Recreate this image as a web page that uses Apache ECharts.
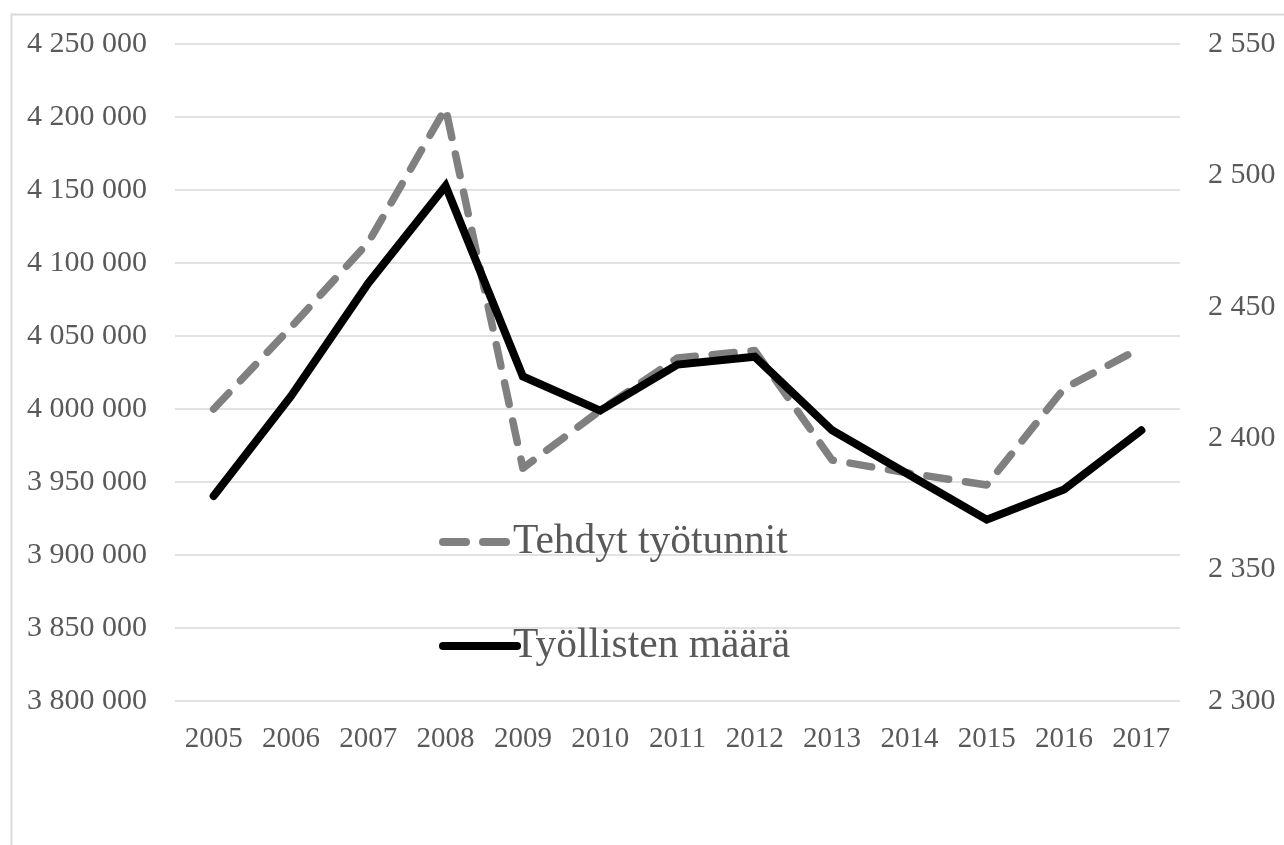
<!DOCTYPE html>
<html>
<head>
<meta charset="utf-8">
<script src="https://cdn.jsdelivr.net/npm/echarts@6/dist/echarts.min.js"></script>
<style>html,body{margin:0;padding:0;background:#fff}#c{width:1284px;height:845px}</style>
</head>
<body>
<div id="c"></div>
<script>
const years = ['2005','2006','2007','2008','2009','2010','2011','2012','2013','2014','2015','2016','2017'];
const tehdytTyotunnit = [4000000, 4056000, 4114000, 4206000, 3959500, 3999000, 4035000, 4040000, 3965000, 3956000, 3948000, 4014000, 4042000];
const tyollistenMaara = [2378, 2416, 2459, 2496, 2423.5, 2410.5, 2428, 2431, 2403, 2386, 2369, 2380.5, 2403];
const leftTicks = {min: 3800000, max: 4250000, interval: 50000};
const rightTicks = {min: 2300, max: 2550, interval: 50};

const FONT = '"Liberation Serif", "DejaVu Serif", serif';
const fmt = v => String(Math.round(v)).replace(/\B(?=(\d{3})+(?!\d))/g, ' ');

const chart = echarts.init(document.getElementById('c'), null, {renderer: 'canvas'});
chart.setOption({
  animation: false,
  backgroundColor: '#ffffff',
  textStyle: {fontFamily: FONT},
  graphic: [{
    type: 'rect', left: 9, top: 12, silent: true,
    shape: {width: 1300, height: 900},
    style: {fill: 'none', stroke: '#d9d9d9', lineWidth: 2}
  }],
  grid: {left: 175, right: 104, top: 44, bottom: 144, containLabel: false},
  legend: {
    orient: 'vertical', left: 434, top: 516,
    itemWidth: 74, itemHeight: 14, itemGap: 62,
    itemStyle: {opacity: 0},
    lineStyle: {width: 8, type: 'inherit', cap: 'round'},
    textStyle: {fontFamily: FONT, fontSize: 41.5, color: '#595959', padding: [0, 0, 0, -9]},
    data: [
      {name: 'Tehdyt työtunnit', itemStyle: {opacity: 0}, lineStyle: {width: 8, type: [23, 17], cap: 'round'}},
      {name: 'Työllisten määrä', itemStyle: {opacity: 0}, lineStyle: {width: 8, type: 'solid', cap: 'round'}}
    ]
  },
  xAxis: {
    type: 'category', data: years, boundaryGap: true,
    axisLine: {show: false}, axisTick: {show: false},
    axisLabel: {fontFamily: FONT, fontSize: 29, color: '#595959', margin: 24, interval: 0}
  },
  yAxis: [{
    type: 'value', min: leftTicks.min, max: leftTicks.max, interval: leftTicks.interval,
    axisLine: {show: false}, axisTick: {show: false},
    axisLabel: {fontFamily: FONT, fontSize: 30, color: '#595959', margin: 28, formatter: fmt},
    splitLine: {lineStyle: {color: '#d9d9d9', width: 1.5}}
  }, {
    type: 'value', min: rightTicks.min, max: rightTicks.max, interval: rightTicks.interval,
    position: 'right',
    axisLine: {show: false}, axisTick: {show: false},
    axisLabel: {fontFamily: FONT, fontSize: 30, color: '#595959', margin: 28, formatter: fmt},
    splitLine: {show: false}
  }],
  series: [{
    name: 'Tehdyt työtunnit', type: 'line', yAxisIndex: 0, data: tehdytTyotunnit,
    symbol: 'none', color: '#808080',
    lineStyle: {color: '#808080', width: 7.5, type: [22, 17], cap: 'round', join: 'round'}
  }, {
    name: 'Työllisten määrä', type: 'line', yAxisIndex: 1, data: tyollistenMaara,
    symbol: 'none', color: '#000000',
    lineStyle: {color: '#000000', width: 8, cap: 'round', join: 'miter'}
  }]
});
</script>
</body>
</html>
